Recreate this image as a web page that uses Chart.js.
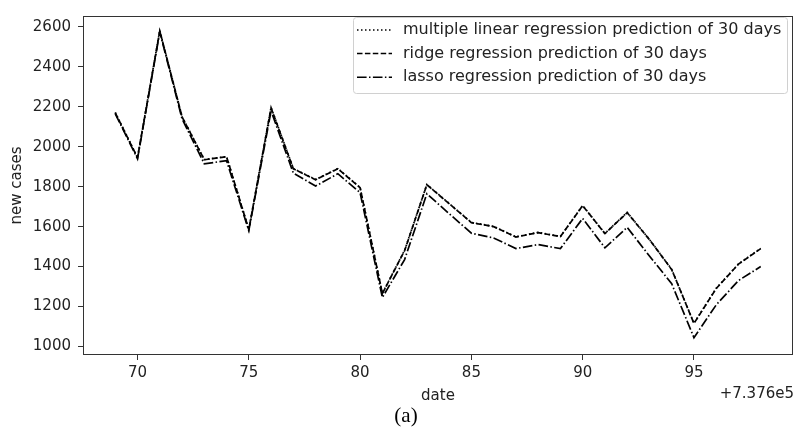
<!DOCTYPE html>
<html>
<head>
<meta charset="utf-8">
<script src="https://cdn.jsdelivr.net/npm/chart.js@4"></script>
<style>
  html, body { margin: 0; padding: 0; background: #fff; }
</style>
</head>
<body>
<canvas id="myChart" width="795" height="427"></canvas>
<script>
// day offsets (+7.376e5) and predicted new cases
const days = [69, 70, 71, 72, 73, 74, 75, 76, 77, 78, 79, 80, 81, 82, 83,
              84, 85, 86, 87, 88, 89, 90, 91, 92, 93, 94, 95, 96, 97, 98];
const linearPred = [2172, 1946, 2582, 2151, 1936, 1951, 1586, 2197, 1891, 1836, 1891, 1796, 1266, 1481, 1811,
                    1716, 1621, 1601, 1549, 1571, 1551, 1706, 1566, 1671, 1536, 1386, 1116, 1291, 1413, 1491];
const ridgePred = [2170, 1945, 2580, 2150, 1935, 1950, 1585, 2195, 1890, 1835, 1890, 1795, 1265, 1480, 1810,
                   1715, 1620, 1600, 1548, 1570, 1550, 1705, 1565, 1670, 1535, 1385, 1115, 1290, 1412, 1490];
const lassoPred = [2165, 1940, 2575, 2140, 1915, 1930, 1580, 2180, 1868, 1803, 1865, 1770, 1245, 1435, 1765,
                   1665, 1567, 1543, 1490, 1510, 1490, 1641, 1494, 1596, 1453, 1314, 1044, 1208, 1330, 1400];
const xTicks = [70, 75, 80, 85, 90, 95];
const yTicks = [1000, 1200, 1400, 1600, 1800, 2000, 2200, 2400, 2600];

const toPoints = vals => days.map((d, i) => ({x: d, y: vals[i]}));

const FONT = 'DejaVu Sans';

// axes frame, legend box and the extra labels matplotlib puts around the plot
const extras = {
    id: 'extras',
    afterDraw(chart) {
        const ctx = chart.ctx;
        const a = chart.chartArea;
        ctx.save();

        ctx.strokeStyle = '#333';
        ctx.lineWidth = 1;
        ctx.setLineDash([]);
        ctx.strokeRect(a.left + 0.5, a.top + 0.5, a.right - a.left - 1, a.bottom - a.top - 1);

        // legend
        const lx = 353, ly = 17, lw = 434, lh = 76;
        ctx.fillStyle = 'rgba(255,255,255,0.8)';
        ctx.strokeStyle = '#d0d0d0';
        ctx.beginPath();
        ctx.roundRect(lx + 0.5, ly + 0.5, lw, lh, 3);
        ctx.fill();
        ctx.stroke();

        ctx.font = '16px "' + FONT + '"';
        ctx.textBaseline = 'middle';
        ctx.textAlign = 'left';
        chart.data.datasets.forEach((ds, i) => {
            const y = 30 + i * 23.6;
            ctx.strokeStyle = '#000';
            ctx.lineWidth = 1.5;
            ctx.setLineDash(ds.borderDash);
            ctx.beginPath();
            ctx.moveTo(357, y);
            ctx.lineTo(392, y);
            ctx.stroke();
            ctx.setLineDash([]);
            ctx.fillStyle = '#222';
            ctx.fillText(ds.label, 403, y);
        });

        ctx.fillStyle = '#222';
        ctx.font = '15px "' + FONT + '"';
        ctx.textAlign = 'center';
        ctx.fillText('date', (a.left + a.right) / 2, 396);
        ctx.textAlign = 'right';
        ctx.fillText('+7.376e5', a.right + 1, 394);

        ctx.textAlign = 'center';
        ctx.fillStyle = '#000';
        ctx.font = '21px "Liberation Serif"';
        ctx.fillText('(a)', 406, 416);

        ctx.translate(17, (a.top + a.bottom) / 2);
        ctx.rotate(-Math.PI / 2);
        ctx.fillStyle = '#222';
        ctx.font = '15px "' + FONT + '"';
        ctx.fillText('new cases', 0, 0);
        ctx.restore();
    }
};

const axisTicks = {
    font: {family: FONT, size: 15},
    color: '#222',
    autoSkip: false,
    maxRotation: 0,
    callback: v => String(v),
};

const config = {
    type: 'line',
    data: {
        datasets: [
            {
                label: 'multiple linear regression prediction of 30 days',
                data: toPoints(linearPred),
                borderDash: [1.5, 2.5],
            },
            {
                label: 'ridge regression prediction of 30 days',
                data: toPoints(ridgePred),
                borderDash: [5.5, 2.4],
            },
            {
                label: 'lasso regression prediction of 30 days',
                data: toPoints(lassoPred),
                borderDash: [9.6, 2.4, 1.5, 2.4],
            }
        ].map((ds, i) => Object.assign(ds, {
            borderColor: '#000',
            borderWidth: 1.7,
            pointRadius: 0,
            fill: false,
            tension: 0,
            order: 3 - i,
        }))
    },
    options: {
        responsive: false,
        animation: false,
        devicePixelRatio: 1,
        layout: {padding: {top: 8, right: 2, left: 0, bottom: 0}},
        plugins: {legend: {display: false}, tooltip: {enabled: false}},
        scales: {
            x: {
                type: 'linear',
                min: 67.55,
                max: 99.45,
                afterBuildTicks: s => { s.ticks = xTicks.map(v => ({value: v})); },
                afterFit: s => { s.height = 72; },
                grid: {drawOnChartArea: false, drawTicks: true, tickLength: 5, tickColor: '#333'},
                border: {display: false},
                ticks: Object.assign({padding: 4}, axisTicks),
            },
            y: {
                min: 957,
                max: 2655,
                afterBuildTicks: s => { s.ticks = yTicks.map(v => ({value: v})); },
                afterFit: s => { s.width = 83; },
                grid: {drawOnChartArea: false, drawTicks: true, tickLength: 5, tickColor: '#333'},
                border: {display: false},
                ticks: Object.assign({padding: 7}, axisTicks),
            }
        }
    },
    plugins: [extras]
};

new Chart(document.getElementById('myChart'), config);
</script>
</body>
</html>
